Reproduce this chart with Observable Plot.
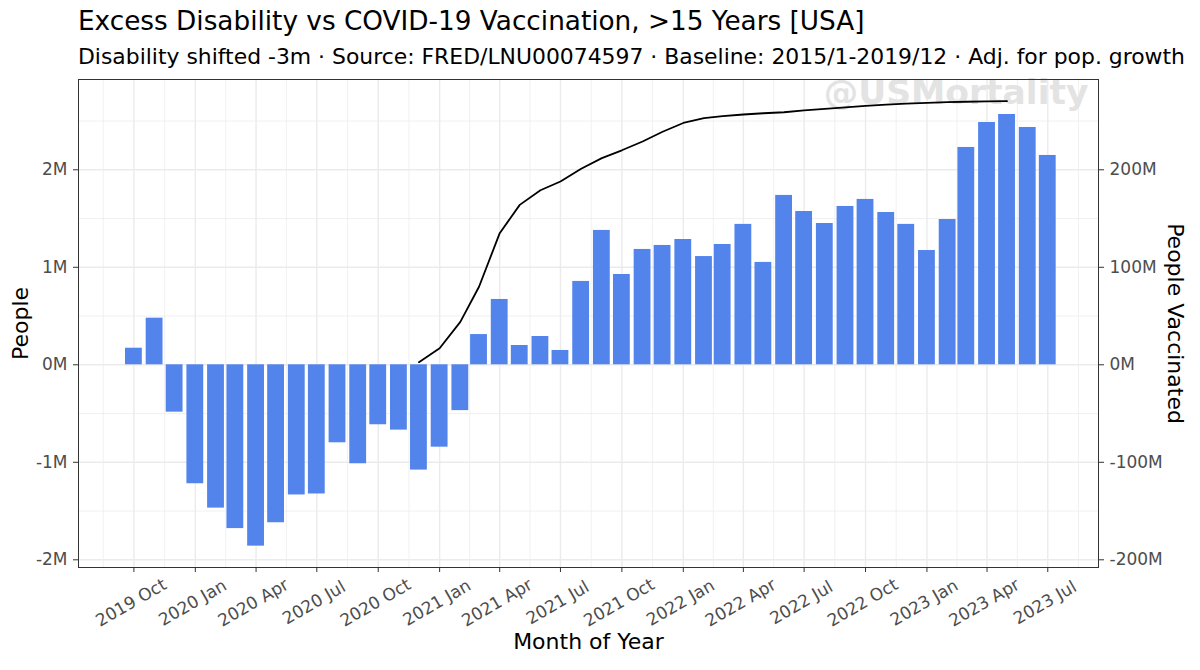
<!DOCTYPE html>
<html><head><meta charset="utf-8">
<script src="https://cdn.jsdelivr.net/npm/d3@7"></script>
<script src="https://cdn.jsdelivr.net/npm/@observablehq/plot@0.6"></script>
<style>
body{margin:0;background:#fff;font-family:"DejaVu Sans",sans-serif;width:1200px;height:670px;overflow:hidden;}
#title{height:40px;line-height:42px;font-size:26.3px;padding-left:78px;color:#000;white-space:nowrap;overflow:visible;}
#subtitle{height:32px;line-height:33px;font-size:21.9px;padding-left:78px;color:#000;white-space:nowrap;overflow:visible;}
#chart svg{display:block;}
</style></head><body>
<div id="title">Excess Disability vs COVID-19 Vaccination, &gt;15 Years [USA]</div>
<div id="subtitle">Disability shifted -3m · Source: FRED/LNU00074597 · Baseline: 2015/1-2019/12 · Adj. for pop. growth</div>
<div id="chart"></div>
<script>
// Excess disability (millions of people), monthly
const months = ["2019-10","2019-11","2019-12","2020-01","2020-02","2020-03","2020-04","2020-05","2020-06","2020-07","2020-08","2020-09","2020-10","2020-11","2020-12","2021-01","2021-02","2021-03","2021-04","2021-05","2021-06","2021-07","2021-08","2021-09","2021-10","2021-11","2021-12","2022-01","2022-02","2022-03","2022-04","2022-05","2022-06","2022-07","2022-08","2022-09","2022-10","2022-11","2022-12","2023-01","2023-02","2023-03","2023-04","2023-05","2023-06","2023-07"];
const excess = [0.17,0.478,-0.486,-1.22,-1.47,-1.68,-1.86,-1.62,-1.335,-1.325,-0.80,-1.015,-0.615,-0.67,-1.08,-0.845,-0.47,0.31,0.67,0.198,0.29,0.147,0.855,1.378,0.926,1.183,1.224,1.285,1.11,1.234,1.44,1.05,1.737,1.572,1.449,1.624,1.696,1.562,1.44,1.172,1.49,2.229,2.485,2.567,2.434,2.147];
// People vaccinated (millions), monthly
const vaccMonths = ["2020-12","2021-01","2021-02","2021-03","2021-04","2021-05","2021-06","2021-07","2021-08","2021-09","2021-10","2021-11","2021-12","2022-01","2022-02","2022-03","2022-04","2022-05","2022-06","2022-07","2022-08","2022-09","2022-10","2022-11","2022-12","2023-01","2023-02","2023-03","2023-04","2023-05"];
const vaccinated = [2.7,17,44,80,135,164,179,188,201,212,220,229,239,248,253,255,256.7,258,259,261,262.5,264,265.5,266.8,267.8,268.7,269.3,269.8,270.2,270.5];
// Axis ticks
const xTickMonths = ["2019-10","2020-01","2020-04","2020-07","2020-10","2021-01","2021-04","2021-07","2021-10","2022-01","2022-04","2022-07","2022-10","2023-01","2023-04","2023-07"];
const yTicks = [-2,-1,0,1,2];
const yMinor = [-1.5,-0.5,0.5,1.5,2.5];
const vaccRatio = 100; // secondary axis = primary * 100

const parse = s => new Date(s + "-01T00:00:00Z");
const DAY = 864e5;
const bars = months.map((m,i) => ({date: parse(m), value: excess[i]}));
const vacc = vaccMonths.map((m,i) => ({date: parse(m), value: vaccinated[i] / vaccRatio}));
const xTicks = xTickMonths.map(parse);
const xMinor = [];
xMinor.push(new Date(+xTicks[0] - (xTicks[1]-xTicks[0])/2));
for (let i = 0; i < xTicks.length - 1; i++) xMinor.push(new Date((+xTicks[i] + +xTicks[i+1]) / 2));
xMinor.push(new Date(+xTicks[xTicks.length-1] + (xTicks[1]-xTicks[0])/2));
const fmtMonth = d3.utcFormat("%Y %b");
const halfW = 12.6 * DAY;

const chart = Plot.plot({
  width: 1200, height: 598,
  marginLeft: 78, marginRight: 102, marginTop: 7, marginBottom: 103,
  style: {fontFamily: "DejaVu Sans, sans-serif", background: "#fff"},
  x: {type: "utc", domain: [new Date("2019-07-10T00:00:00Z"), new Date("2023-09-15T00:00:00Z")]},
  y: {domain: [-2.079, 2.926]},
  marks: [
    Plot.ruleY(yMinor, {y: d => d, stroke: "#EBEBEB", strokeWidth: 0.7}),
    Plot.ruleX(xMinor, {x: d => d, stroke: "#EBEBEB", strokeWidth: 0.7}),
    Plot.ruleY(yTicks, {y: d => d, stroke: "#EBEBEB", strokeWidth: 1.4}),
    Plot.ruleX(xTicks, {x: d => d, stroke: "#EBEBEB", strokeWidth: 1.4}),
    Plot.text(["@USMortality"], {frameAnchor: "top-right", dx: -10, dy: 0, text: d => d, fontSize: 34.5, fontWeight: "bold", fill: "#E3E3E3", textAnchor: "end", lineAnchor: "top"}),
    Plot.rectY(bars, {x1: d => new Date(+d.date - halfW), x2: d => new Date(+d.date + halfW), y1: 0, y2: "value", fill: "#5384EC"}),
    Plot.line(vacc, {x: "date", y: "value", stroke: "#000", strokeWidth: 1.8}),
    Plot.frame({stroke: "#333", strokeWidth: 1}),
    Plot.axisY({anchor: "left", ticks: yTicks, tickFormat: d => d + "M", tickSize: 5, tickPadding: 6, fontSize: 17, stroke: "#333", fill: "#4D4D4D", label: null}),
    Plot.axisY({anchor: "right", ticks: yTicks, tickFormat: d => (d * vaccRatio) + "M", tickSize: 5, tickPadding: 6, fontSize: 17, stroke: "#333", fill: "#4D4D4D", label: null}),
    Plot.axisX({ticks: xTicks, tickFormat: () => "", tickSize: 5, stroke: "#333", label: null}),
    Plot.text(xTicks, {x: d => d, frameAnchor: "bottom", dy: 40, text: d => fmtMonth(d), rotate: -30, textAnchor: "middle", fontSize: 17, fill: "#4D4D4D"}),
    Plot.text(["People"], {frameAnchor: "left", dx: -58, text: d => d, rotate: -90, textAnchor: "middle", fontSize: 22, fill: "#000"}),
    Plot.text(["People Vaccinated"], {frameAnchor: "right", dx: 77, text: d => d, rotate: 90, textAnchor: "middle", fontSize: 22, fill: "#000"}),
    Plot.text(["Month of Year"], {frameAnchor: "bottom", dy: 81, text: d => d, textAnchor: "middle", fontSize: 22, fill: "#000"})
  ]
});
document.getElementById("chart").appendChild(chart);
</script>
</body></html>
